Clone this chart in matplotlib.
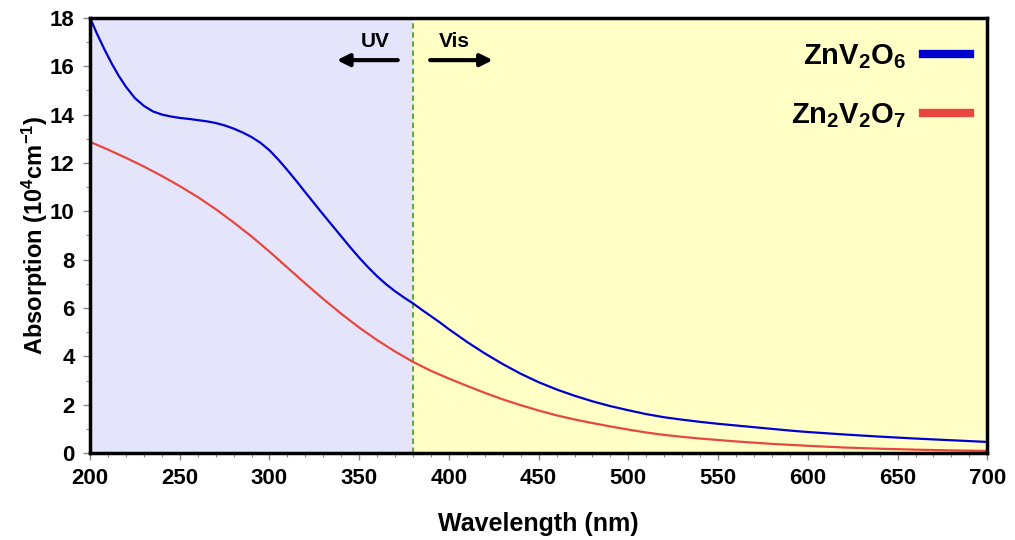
import matplotlib
matplotlib.use('Agg')
import matplotlib.pyplot as plt

plt.rcParams['font.family'] = 'Liberation Sans'
plt.rcParams['font.weight'] = 'bold'
plt.rcParams['mathtext.fontset'] = 'custom'
plt.rcParams['mathtext.rm'] = 'Liberation Sans:bold'
plt.rcParams['mathtext.bf'] = 'Liberation Sans:bold'
plt.rcParams['mathtext.default'] = 'bf'

wl_a = [200, 204, 208, 212, 216, 220, 225, 230, 235, 240, 245, 250, 255, 260, 265,
        270, 275, 280, 285, 290, 295, 300, 305, 310, 315, 320, 325, 330, 335, 340,
        345, 350, 355, 360, 365, 370, 375, 380, 385, 390, 395, 400, 410, 420, 430,
        440, 450, 460, 470, 480, 490, 500, 510, 520, 530, 540, 550, 560, 570, 580,
        590, 600, 620, 640, 660, 680, 700]
znv2o6 = [18.0, 17.32, 16.7, 16.12, 15.6, 15.15, 14.68, 14.36, 14.13, 14.0, 13.92,
          13.86, 13.82, 13.77, 13.72, 13.65, 13.55, 13.42, 13.26, 13.07, 12.83,
          12.52, 12.13, 11.7, 11.25, 10.78, 10.32, 9.86, 9.41, 8.96, 8.51, 8.08,
          7.68, 7.31, 6.98, 6.69, 6.43, 6.19, 5.92, 5.66, 5.4, 5.12, 4.6, 4.12,
          3.68, 3.28, 2.93, 2.63, 2.37, 2.14, 1.94, 1.77, 1.61, 1.48, 1.38, 1.29,
          1.21, 1.14, 1.07, 1.0, 0.93, 0.87, 0.77, 0.68, 0.6, 0.53, 0.46]

wl_b = [200, 210, 220, 230, 240, 250, 260, 270, 280, 290, 300, 310, 320, 330, 340,
        350, 360, 370, 380, 390, 400, 410, 420, 430, 440, 450, 460, 470, 480, 490,
        500, 510, 520, 530, 540, 550, 560, 570, 580, 590, 600, 620, 640, 660, 680,
        700]
zn2v2o7 = [12.87, 12.55, 12.21, 11.85, 11.46, 11.04, 10.59, 10.09, 9.54, 8.96,
           8.33, 7.67, 7.01, 6.37, 5.76, 5.19, 4.67, 4.2, 3.77, 3.4, 3.08, 2.78,
           2.49, 2.22, 1.98, 1.76, 1.56, 1.39, 1.24, 1.1, 0.97, 0.85, 0.75, 0.67,
           0.6, 0.54, 0.48, 0.43, 0.38, 0.34, 0.3, 0.23, 0.18, 0.14, 0.11, 0.09]

uv_edge = 380

fig = plt.figure(figsize=(10.15, 5.4), dpi=100)
ax = fig.add_axes([0.0887, 0.161, 0.884, 0.806])

ax.axvspan(200, uv_edge, color='#e4e4fb', zorder=0)
ax.axvspan(uv_edge, 700, color='#ffffc6', zorder=0)
ax.axvline(uv_edge, color='#5a9e2a', linestyle='--', lw=1.3, dashes=(3, 2))

ax.plot(wl_a, znv2o6, color='#0000d0', lw=1.6, label='ZnV$_2$O$_6$')
ax.plot(wl_b, zn2v2o7, color='#e8473f', lw=1.6, label='Zn$_2$V$_2$O$_7$')

ax.set_xlim(200, 700)
ax.set_ylim(0, 18)
ax.set_xticks(range(200, 701, 50))
ax.set_xticks(range(200, 701, 10), minor=True)
ax.set_yticks(range(0, 19, 2))
ax.set_yticks(range(0, 19, 1), minor=True)
ax.tick_params(axis='both', which='major', labelsize=16, length=5, width=1, color='#888888', pad=6)
ax.tick_params(axis='both', which='minor', length=3, width=0.8, color='#888888')
for s in ax.spines.values():
    s.set_linewidth(2.5)

ax.set_xlabel('Wavelength (nm)', fontsize=18, fontweight='bold', labelpad=16)
ax.set_ylabel('Absorption (10$^{4}$cm$^{-1}$)', fontsize=17, fontweight='bold', labelpad=0)

ax.text(359, 17.0, 'UV', fontsize=15, fontweight='bold', ha='center', va='center')
ax.annotate('', xy=(336, 16.25), xytext=(373, 16.25),
            arrowprops=dict(arrowstyle='-|>', color='black', lw=3, mutation_scale=18))
ax.text(403, 17.0, 'Vis', fontsize=15, fontweight='bold', ha='center', va='center')
ax.annotate('', xy=(426, 16.25), xytext=(388, 16.25),
            arrowprops=dict(arrowstyle='-|>', color='black', lw=3, mutation_scale=18))

leg = ax.legend(loc='upper right', frameon=False, markerfirst=False, fontsize=21,
                handlelength=1.6, handletextpad=0.6, labelspacing=1.05,
                bbox_to_anchor=(1.01, 1.005))
for h in leg.get_lines():
    h.set_linewidth(6)

fig.savefig('out.png', dpi=100)
